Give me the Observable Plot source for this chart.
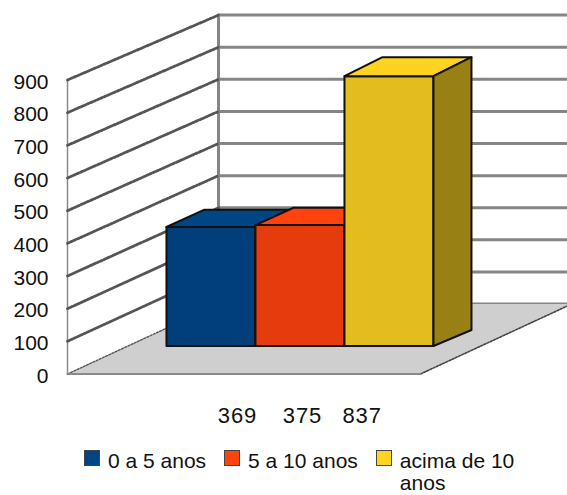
<!DOCTYPE html>
<html>
<head>
<meta charset="utf-8">
<script src="https://cdn.jsdelivr.net/npm/d3@7"></script>
<script src="https://cdn.jsdelivr.net/npm/@observablehq/plot@0.6"></script>
<style>
  html, body { margin: 0; padding: 0; background: #fff; overflow: hidden; }
  body { font-family: "Liberation Sans", Arial, sans-serif; color: #111; }
  svg { display: block; }
  .count-labels text { letter-spacing: 0.9px; }
  .legend { display: flex; align-items: flex-start; padding: 3px 0 0 84px; gap: 18px; font-size: 21px; line-height: 22px; }
  .legend .item { display: flex; align-items: flex-start; gap: 8px; white-space: nowrap; }
  .legend .item.wrap { white-space: normal; width: 150px; }
  .legend .swatch { flex: none; width: 14px; height: 14px; border: 1px solid #444; }
</style>
</head>
<body>
<div id="chart"></div>
<div id="legend" class="legend"></div>
<script>
// Chart values
const ranges = ["0 a 5 anos", "5 a 10 anos", "acima de 10 anos"];
const counts = [369, 375, 837];
const valueTicks = [0, 100, 200, 300, 400, 500, 600, 700, 800, 900];

// Face colours per series
const topColors = ["#004586", "#ff420e", "#ffd320"];
const frontColors = ["#003f7a", "#e63c0d", "#e3bd1e"];
const sideColors = ["#00294f", "#99280a", "#998014"];

// Oblique box projection: each depth plane shifts slots sideways, lifts the
// value baseline and slightly rescales heights.
const planes = {
  wallFront: {sx: 0, sy: 0, k: 1},
  barFront: {sx: 1.112, sy: 85.7, k: 0.987},
  barBack: {sx: 1.539, sy: 134.7, k: 0.998},
  wallBack: {sx: 1.697, sy: 214, k: 0.983}
};
const floorWidth = 3.966;
const project = (slot, value, plane) => ({
  x: slot + plane.sx,
  y: value * plane.k + plane.sy
});

// Closed polygons, one row per corner
const polygon = (id, fill, corners) =>
  corners.map(([slot, value, plane]) => ({id, fill, ...project(slot, value, plane)}));

const {wallFront, barFront, barBack, wallBack} = planes;

const floor = polygon("floor", "#cfcfcf", [
  [0, 0, wallFront], [floorWidth, 0, wallFront], [floorWidth, 0, wallBack], [0, 0, wallBack]
]);

const barFaces = counts.flatMap((value, i) => [
  ...polygon(`front${i}`, frontColors[i], [
    [i, 0, barFront], [i + 1, 0, barFront], [i + 1, value, barFront], [i, value, barFront]
  ]),
  ...polygon(`top${i}`, topColors[i], [
    [i, value, barFront], [i + 1, value, barFront], [i + 1, value, barBack], [i, value, barBack]
  ]),
  ...polygon(`side${i}`, sideColors[i], [
    [i + 1, 0, barFront], [i + 1, 0, barBack], [i + 1, value, barBack], [i + 1, value, barFront]
  ])
]);

// Grid on the two walls
const sideGrid = valueTicks.flatMap((v) => [
  {v, ...project(0, v, wallFront)},
  {v, ...project(0, v, wallBack)}
]);
const backGrid = valueTicks.flatMap((v) => [
  {v, ...project(0, v, wallBack)},
  {v, ...project(floorWidth, v, wallBack)}
]);
const wallEdge = (plane) => [project(0, 0, plane), project(0, 900, plane)];
const floorEdge = [project(floorWidth, 0, wallFront), project(floorWidth, 0, wallBack)];
const floorFront = [project(0, 0, wallFront), project(floorWidth, 0, wallFront)];

// Count labels sit in one row under the floor
const countSlots = [1.91, 2.64, 3.31];
const countRows = counts.map((value, i) => ({value, x: countSlots[i], y: -128}));

const chart = Plot.plot({
  width: 567,
  height: 447,
  marginLeft: 49,
  marginRight: 0,
  marginTop: 0,
  marginBottom: 0,
  style: {fontFamily: "'Liberation Sans', Arial, sans-serif", background: "#fff", color: "#111"},
  x: {domain: [0, 500 / 89], range: [67, 567], axis: null},
  y: {domain: [0, 900], range: [373.5, 79.5], axis: null},
  color: {type: "identity"},
  marks: [
    Plot.line(backGrid, {x: "x", y: "y", z: "v", stroke: "#868686", strokeWidth: 3}),
    Plot.line(wallEdge(wallBack), {x: "x", y: "y", stroke: "#858585", strokeWidth: 3}),
    Plot.line(wallEdge(wallFront), {x: "x", y: "y", stroke: "#8a8a8a", strokeWidth: 1.5}),
    Plot.line(sideGrid.filter((d) => d.v > 0), {x: "x", y: "y", z: "v", stroke: "#555", strokeWidth: 2.8, strokeDasharray: "2 1.6"}),
    Plot.line(floor, {x: "x", y: "y", z: "id", fill: "fill", stroke: "none", curve: "linear-closed"}),
    Plot.line(sideGrid.filter((d) => d.v === 0), {x: "x", y: "y", stroke: "#555", strokeWidth: 1.4, strokeDasharray: "2 1.5"}),
    Plot.line(floorEdge, {x: "x", y: "y", stroke: "#444", strokeWidth: 1.6, strokeDasharray: "2 1.5"}),
    Plot.line(floorFront, {x: "x", y: "y", stroke: "#8a8a8a", strokeWidth: 2}),
    Plot.line(barFaces, {x: "x", y: "y", z: "id", fill: "fill", stroke: "#111", strokeWidth: 2, strokeLinejoin: "round", curve: "linear-closed"}),
    Plot.axisY({ticks: valueTicks, tickSize: 0, tickPadding: 1, fontSize: 21, dy: 2, label: null, tickFormat: (d) => String(d)}),
    Plot.text(countRows, {x: "x", y: "y", text: "value", fontSize: 22, fill: "#111", className: "count-labels"})
  ]
});
document.getElementById("chart").append(chart);

// Legend under the chart
const legend = d3.select("#legend");
ranges.forEach((name, i) => {
  const item = legend.append("div").attr("class", i === ranges.length - 1 ? "item wrap" : "item");
  item.append("span").attr("class", "swatch").style("background", topColors[i]);
  item.append("span").text(name);
});
</script>
</body>
</html>
